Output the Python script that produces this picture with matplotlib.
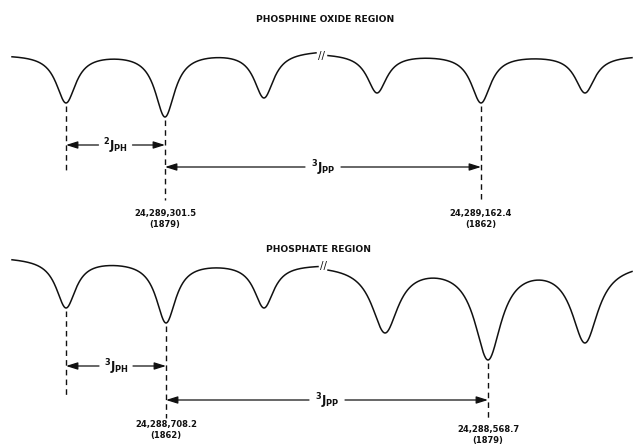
import numpy as np
import matplotlib
matplotlib.use("Agg")
import matplotlib.pyplot as plt

plt.rcParams['font.family'] = ['DejaVu Sans']
plt.rcParams['mathtext.default'] = 'regular'

# ---- data (chart units: horizontal sweep position, vertical deflection) ----
top_left_pos = [66, 165, 264]
top_left_min = [103, 117, 98]
top_right_pos = [377, 481, 585]
top_right_min = [93, 103, 93]
bot_left_pos = [66, 166, 264]
bot_left_min = [308, 323, 308]
bot_right_pos = [385, 488, 585]
bot_right_min = [333, 360, 343]

top_labels = ["24,289,301.5\n(1879)", "24,289,162.4\n(1862)"]
bot_labels = ["24,288,708.2\n(1862)", "24,288,568.7\n(1879)"]
titles = ["PHOSPHINE OXIDE REGION", "PHOSPHATE REGION"]
top_j = [r"$^{2}$J$_{PH}$", r"$^{3}$J$_{PP}$"]
bot_j = [r"$^{3}$J$_{PH}$", r"$^{3}$J$_{PP}$"]


def lor(x, c, g):
    return g * g / ((x - c) ** 2 + g * g)


def segment(x0, x1, base0, base1, pos, mins, g):
    x = np.linspace(x0, x1, 800)
    base = lambda t: base0 + (base1 - base0) * (np.asarray(t) - x0) / (x1 - x0)
    pos = np.asarray(pos, float)
    M = np.array([[lor(p, q, g) for q in pos] for p in pos])
    amp = np.linalg.solve(M, np.asarray(mins, float) - base(pos))
    y = base(x) + sum(a * lor(x, p, g) for a, p in zip(amp, pos))
    return x, y


fig = plt.figure(figsize=(6.35, 4.44), dpi=100)
ax = fig.add_axes([0, 0, 1, 1])
ax.set_xlim(0, 635)
ax.set_ylim(444, 0)
ax.axis('off')

lc = '#111111'
lw = 1.1

segs = [
    segment(12, 316, 54, 50, top_left_pos, top_left_min, 12),
    segment(328, 632, 53, 55, top_right_pos, top_right_min, 12),
    segment(12, 318, 257, 264, bot_left_pos, bot_left_min, 12),
    segment(328, 632, 264, 262, bot_right_pos, bot_right_min, 16),
]
for x, y in segs:
    ax.plot(x, y, color=lc, lw=lw)

ax.text(322, 56, "//", ha='center', va='center', fontsize=7.5, color=lc)
ax.text(323, 266, "//", ha='center', va='center', fontsize=7.5, color=lc)

fs_t = 6.6
ax.text(325, 20, titles[0], ha='center', va='center', fontsize=fs_t, color=lc,
        fontweight='bold')
ax.text(318, 249, titles[1], ha='center', va='center', fontsize=fs_t, color=lc,
        fontweight='bold')

dash = (0, (4, 3))
dlw = 1.0
# top panel guide lines
ax.vlines(top_left_pos[0], top_left_min[0] + 3, 170, colors=lc, linestyles=dash, lw=dlw)
ax.vlines(top_left_pos[1], top_left_min[1] + 3, 200, colors=lc, linestyles=dash, lw=dlw)
ax.vlines(top_right_pos[1], top_right_min[1] + 3, 200, colors=lc, linestyles=dash, lw=dlw)
# bottom panel guide lines
ax.vlines(bot_left_pos[0], bot_left_min[0] + 3, 395, colors=lc, linestyles=dash, lw=dlw)
ax.vlines(bot_left_pos[1], bot_left_min[1] + 3, 418, colors=lc, linestyles=dash, lw=dlw)
ax.vlines(bot_right_pos[1], bot_right_min[1] + 3, 420, colors=lc, linestyles=dash, lw=dlw)

ap = dict(arrowstyle='-|>,head_length=0.7,head_width=0.22', color=lc, lw=0.9,
          shrinkA=0, shrinkB=0)


def span(xa, xb, y, label, gap):
    xm = (xa + xb) / 2
    ax.annotate('', xy=(xa, y), xytext=(xm - gap, y), arrowprops=ap)
    ax.annotate('', xy=(xb, y), xytext=(xm + gap, y), arrowprops=ap)
    ax.text(xm, y + 1, label, ha='center', va='center', fontsize=8.5, color=lc,
            fontweight='bold')


span(top_left_pos[0], top_left_pos[1], 145, top_j[0], 17)
span(top_left_pos[1], top_right_pos[1], 167, top_j[1], 18)
span(bot_left_pos[0], bot_left_pos[1], 366, bot_j[0], 17)
span(bot_left_pos[1], bot_right_pos[1], 400, bot_j[1], 18)

fs_n = 6.0
kw = dict(ha='center', va='center', fontsize=fs_n, color=lc, linespacing=1.2,
          fontweight='bold')
ax.text(top_left_pos[1], 219, top_labels[0], **kw)
ax.text(top_right_pos[1], 219, top_labels[1], **kw)
ax.text(bot_left_pos[1], 430, bot_labels[0], **kw)
ax.text(bot_right_pos[1], 435, bot_labels[1], **kw)

fig.savefig("out.png", dpi=100, facecolor='white')
